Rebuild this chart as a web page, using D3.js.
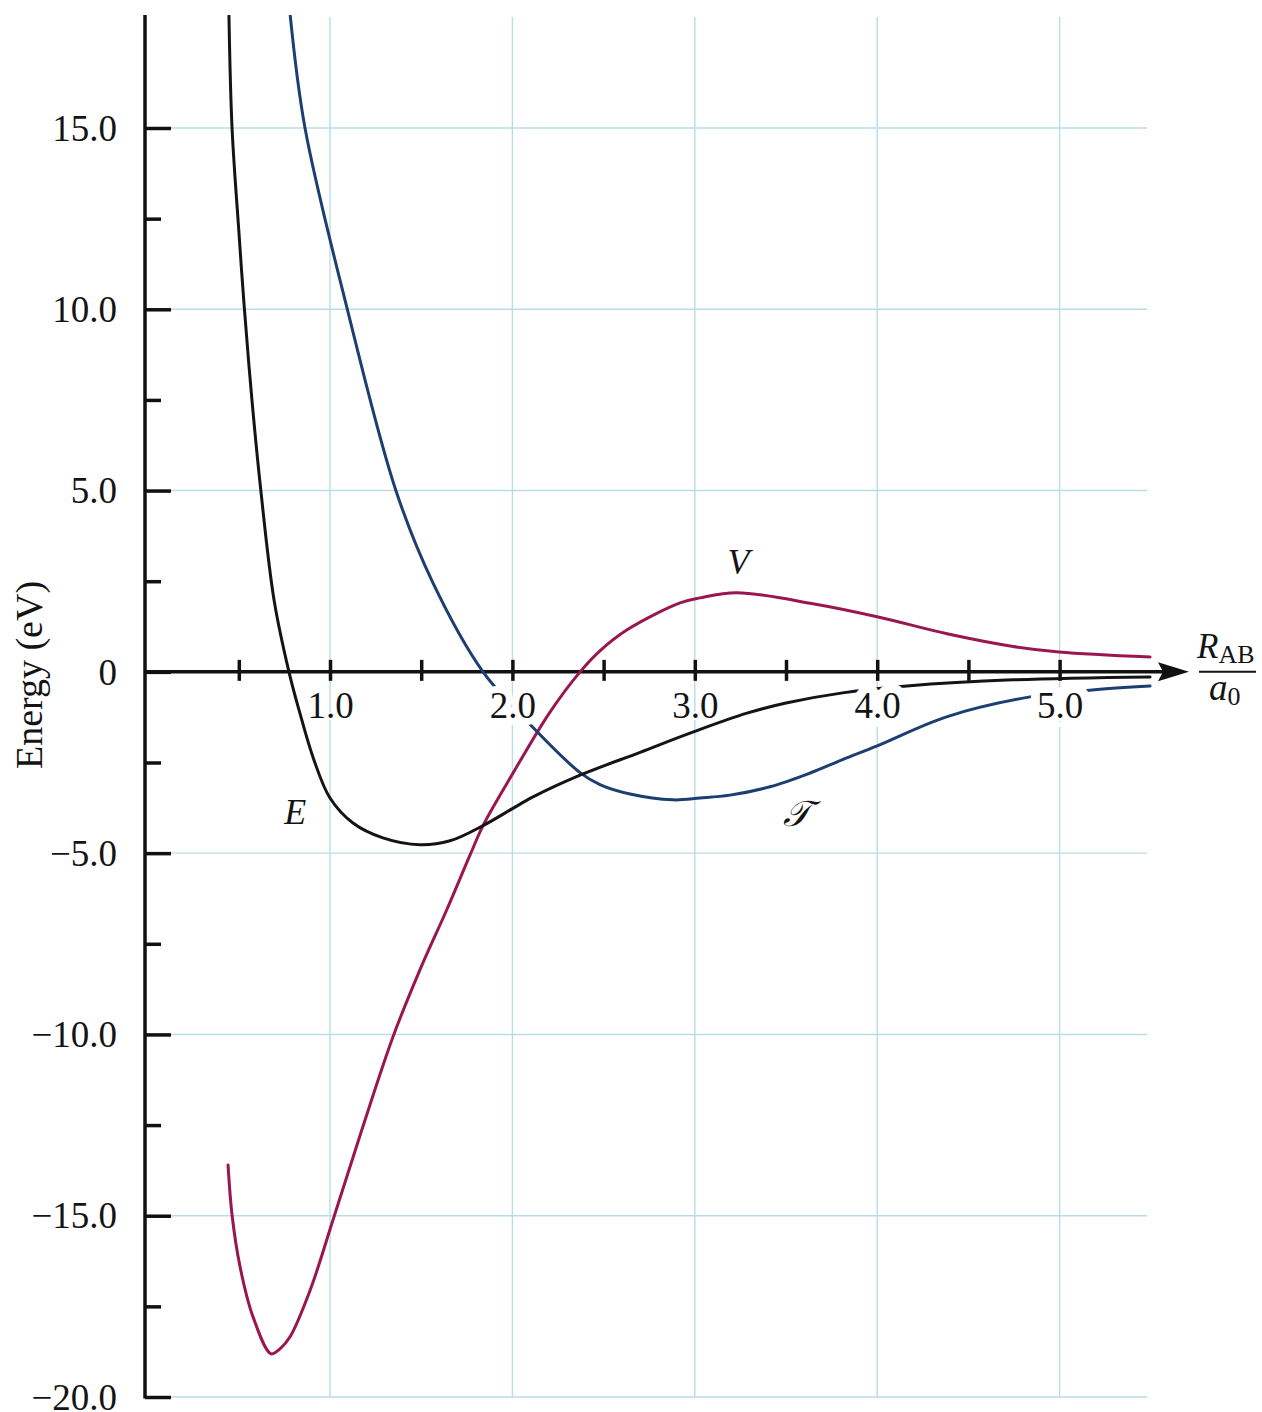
<!DOCTYPE html>
<html>
<head>
<meta charset="utf-8">
<script src="https://cdn.jsdelivr.net/npm/d3@7"></script>
<style>
  html, body { margin: 0; padding: 0; background: #fff; }
  svg { display: block; }
</style>
</head>
<body>
<svg id="chart" width="1262" height="1412"></svg>
<script>
// Energy components (eV) against internuclear separation R_AB / a0.
// Total energy E
const totalR = [0.446, 0.463, 0.501, 0.529, 0.572, 0.621, 0.693, 0.775, 0.830, 0.912, 1.0, 1.126, 1.29, 1.493, 1.658, 1.839, 1.998, 2.113, 2.371, 2.70, 2.974, 3.286, 3.5, 3.81, 4.163, 4.744, 5.496];
const totalE = [18.09, 15.0, 12.10, 10.12, 7.50, 4.99, 1.99, 0, -1.05, -2.43, -3.48, -4.17, -4.58, -4.77, -4.66, -4.24, -3.78, -3.45, -2.85, -2.22, -1.69, -1.14, -0.86, -0.58, -0.39, -0.22, -0.14];

// Kinetic energy T
const kineticR = [0.782, 0.863, 1.093, 1.362, 1.565, 1.839, 2.036, 2.371, 2.48, 2.645, 2.88, 3.029, 3.193, 3.412, 3.632, 3.81, 4.0, 4.38, 4.838, 5.178, 5.496];
const kineticT = [18.1, 15.0, 10.04, 4.99, 2.45, 0, -1.13, -2.78, -3.11, -3.37, -3.53, -3.48, -3.40, -3.17, -2.79, -2.42, -2.04, -1.24, -0.69, -0.50, -0.39];

// Potential energy V
const potentialR = [0.441, 0.463, 0.507, 0.578, 0.677, 0.726, 0.781, 0.890, 1.022, 1.165, 1.345, 1.493, 1.642, 1.768, 1.839, 1.998, 2.206, 2.371, 2.48, 2.629, 2.919, 3.029, 3.231, 3.648, 4.0, 4.383, 4.745, 4.997, 5.496];
const potentialV = [-13.60, -14.98, -16.41, -17.79, -18.81, -18.67, -18.34, -17.07, -15.03, -12.78, -10.07, -8.22, -6.54, -5.05, -4.24, -2.84, -1.11, 0, 0.58, 1.16, 1.90, 2.04, 2.18, 1.88, 1.52, 1.05, 0.70, 0.55, 0.41];

// Axis ticks and labels
const yMajorTicks = [-20, -15, -10, -5, 0, 5, 10, 15];
const yTickLabels = ["\u221220.0", "\u221215.0", "\u221210.0", "\u22125.0", "0", "5.0", "10.0", "15.0"];
const yMinorTicks = [-17.5, -12.5, -7.5, -2.5, 2.5, 7.5, 12.5];
const xTicks = [0.5, 1, 1.5, 2, 2.5, 3, 3.5, 4, 4.5, 5];
const xLabelTicks = [1, 2, 3, 4, 5];
const xTickLabels = ["1.0", "2.0", "3.0", "4.0", "5.0"];
const xGrid = [1, 2, 3, 4, 5];
const yGrid = [-20, -15, -10, -5, 5, 10, 15];

const svg = d3.select("#chart");
const x = d3.scaleLinear().domain([0, 5.5]).range([147.6, 1150.8]);
const y = d3.scaleLinear().domain([-20, 15]).range([1397, 128]);

const axisX = 145;          // vertical axis position
const plotTop = 15;
const gridRight = x(5.48);
const fontFamily = '"Liberation Serif", "Times New Roman", serif';
const ink = "#141414";

// light-blue grid
const grid = svg.append("g").attr("stroke", "#b9dcea").attr("stroke-width", 1.4);
grid.selectAll("line.v").data(xGrid).join("line")
  .attr("class", "v")
  .attr("x1", d => x(d)).attr("x2", d => x(d))
  .attr("y1", plotTop + 2).attr("y2", y(-20));
grid.selectAll("line.h").data(yGrid).join("line")
  .attr("class", "h")
  .attr("x1", axisX).attr("x2", gridRight)
  .attr("y1", d => y(d)).attr("y2", d => y(d));

// vertical axis with major / minor ticks
const yAxisG = svg.append("g").attr("transform", `translate(${axisX},0)`);
yAxisG.append("g")
  .call(d3.axisRight(y).tickValues(yMajorTicks).tickSize(26).tickFormat(""))
  .call(g => g.select(".domain").remove())
  .call(g => g.selectAll("line").attr("stroke", "#111").attr("stroke-width", 3.5));
yAxisG.append("g")
  .call(d3.axisRight(y).tickValues(yMinorTicks).tickSize(16).tickFormat(""))
  .call(g => g.select(".domain").remove())
  .call(g => g.selectAll("line").attr("stroke", "#111").attr("stroke-width", 3.5));
yAxisG.append("g")
  .call(d3.axisLeft(y).tickValues(yMajorTicks).tickSize(0).tickPadding(28)
        .tickFormat((d, i) => yTickLabels[i]))
  .call(g => g.select(".domain").remove())
  .call(g => g.selectAll("text")
      .attr("font-family", fontFamily).attr("font-size", 37)
      .attr("fill", ink).attr("dy", "0.33em"));
yAxisG.append("line")
  .attr("x1", 0).attr("x2", 0).attr("y1", plotTop).attr("y2", y(-20) + 1.5)
  .attr("stroke", "#111").attr("stroke-width", 3.5);

// horizontal axis with arrow head
const y0 = y(0);
svg.append("line")
  .attr("x1", axisX).attr("x2", 1168).attr("y1", y0).attr("y2", y0)
  .attr("stroke", "#111").attr("stroke-width", 3.5);
svg.append("path")
  .attr("d", `M1189,${y0} L1158,${y0 - 9.5} L1163,${y0} L1158,${y0 + 9.5} Z`)
  .attr("fill", "#111");
svg.append("g")
  .attr("transform", `translate(0,${y0 - 12})`)
  .call(d3.axisBottom(x).tickValues(xTicks).tickSize(21).tickFormat(""))
  .call(g => g.select(".domain").remove())
  .call(g => g.selectAll("line").attr("stroke", "#111").attr("stroke-width", 3.5));

// curves
svg.append("defs").append("clipPath").attr("id", "plotClip")
  .append("rect").attr("x", axisX).attr("y", plotTop).attr("width", 1060).attr("height", 1390);

const line = d3.line().x(d => x(d[0])).y(d => y(d[1])).curve(d3.curveCatmullRom.alpha(0.5));
const curves = svg.append("g").attr("clip-path", "url(#plotClip)")
  .attr("fill", "none").attr("stroke-width", 3).attr("stroke-linecap", "round")
  .attr("stroke-linejoin", "round");
curves.append("path").datum(d3.zip(potentialR, potentialV)).attr("d", line).attr("stroke", "#9a1650");
curves.append("path").datum(d3.zip(kineticR, kineticT)).attr("d", line).attr("stroke", "#1d3e70");
curves.append("path").datum(d3.zip(totalR, totalE)).attr("d", line).attr("stroke", ink);

// x tick labels; the wider white halos break the curves that pass under 2.0, 4.0 and 5.0
const haloWidth = d => (d === 1 || d === 3) ? 4 : (d === 2 ? 14 : 18);
svg.append("g")
  .attr("transform", `translate(0,${y0})`)
  .call(d3.axisBottom(x).tickValues(xLabelTicks).tickSize(0).tickPadding(20)
        .tickFormat((d, i) => xTickLabels[i]))
  .call(g => g.select(".domain").remove())
  .call(g => g.selectAll("text")
      .attr("font-family", fontFamily).attr("font-size", 37).attr("fill", ink)
      .attr("stroke", "#fff").attr("stroke-width", haloWidth)
      .attr("stroke-linejoin", "round").attr("paint-order", "stroke"));

// curve names
const names = [
  { t: "E", r: 0.81, v: -4.2 },
  { t: "V", r: 3.24, v: 2.7 },
  { t: "\uD835\uDCAF", r: 3.56, v: -4.25 }
];
svg.append("g").selectAll("text").data(names).join("text")
  .attr("x", d => x(d.r)).attr("y", d => y(d.v))
  .attr("text-anchor", "middle")
  .attr("font-family", fontFamily).attr("font-style", "italic")
  .attr("font-size", 36).attr("fill", ink)
  .text(d => d.t);

// axis titles
svg.append("text")
  .attr("transform", `translate(42,675) rotate(-90)`)
  .attr("text-anchor", "middle")
  .attr("font-family", fontFamily).attr("font-size", 38).attr("fill", ink)
  .text("Energy (eV)");

const unit = svg.append("g").attr("font-family", fontFamily).attr("fill", ink);
const num = unit.append("text").attr("x", 1197).attr("y", 658);
num.append("tspan").attr("font-style", "italic").attr("font-size", 35).text("R");
num.append("tspan").attr("font-size", 26).attr("dy", 5).text("AB");
unit.append("line").attr("x1", 1199).attr("x2", 1256).attr("y1", y0).attr("y2", y0)
  .attr("stroke", ink).attr("stroke-width", 2);
const den = unit.append("text").attr("x", 1209).attr("y", 700);
den.append("tspan").attr("font-style", "italic").attr("font-size", 37).text("a");
den.append("tspan").attr("font-size", 26).attr("dy", 5).text("0");
</script>
</body>
</html>
